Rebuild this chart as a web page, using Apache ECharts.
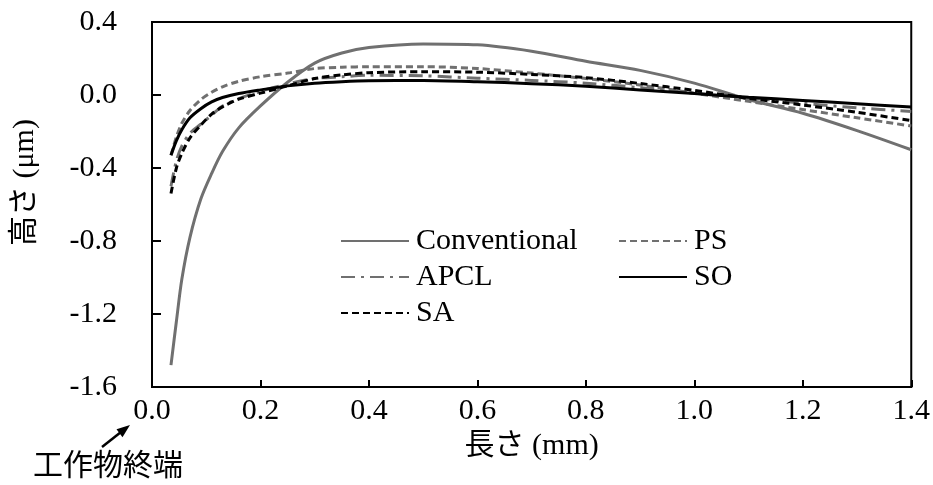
<!DOCTYPE html>
<html>
<head>
<meta charset="utf-8">
<script src="https://cdn.jsdelivr.net/npm/echarts@6/dist/echarts.min.js"></script>
<style>html,body{margin:0;padding:0;background:#fff;}#c{width:933px;height:485px;}</style>
</head>
<body>
<div id="c"></div>
<script>
var xs = [0.035, 0.045, 0.055, 0.07, 0.09, 0.11, 0.13, 0.16, 0.2, 0.25, 0.3, 0.35, 0.4, 0.5, 0.6, 0.7, 0.8, 0.9, 1.0, 1.1, 1.2, 1.3, 1.4];
var conventional = [-1.48, -1.24, -1.01, -0.78, -0.57, -0.43, -0.31, -0.18, -0.06, 0.07, 0.175, 0.23, 0.26, 0.28, 0.275, 0.24, 0.185, 0.135, 0.065, -0.025, -0.10, -0.195, -0.30];
var ps = [-0.33, -0.23, -0.155, -0.085, -0.025, 0.015, 0.045, 0.075, 0.10, 0.12, 0.145, 0.152, 0.155, 0.155, 0.145, 0.12, 0.09, 0.055, 0.01, -0.035, -0.08, -0.125, -0.17];
var apcl = [-0.50, -0.36, -0.28, -0.21, -0.16, -0.11, -0.06, -0.02, 0.02, 0.06, 0.09, 0.10, 0.108, 0.105, 0.092, 0.08, 0.065, 0.04, 0.01, -0.015, -0.045, -0.07, -0.09];
var so = [-0.33, -0.25, -0.19, -0.125, -0.075, -0.038, -0.014, 0.008, 0.028, 0.05, 0.065, 0.073, 0.078, 0.08, 0.073, 0.062, 0.048, 0.028, 0.008, -0.012, -0.03, -0.048, -0.066];
var sa = [-0.54, -0.40, -0.32, -0.235, -0.165, -0.105, -0.065, -0.023, 0.01, 0.05, 0.09, 0.11, 0.122, 0.128, 0.125, 0.113, 0.095, 0.063, 0.025, -0.018, -0.055, -0.095, -0.14];
var seriesNames = ['Conventional', 'PS', 'APCL', 'SO', 'SA'];
var xTicks = [0, 0.2, 0.4, 0.6, 0.8, 1.0, 1.2, 1.4];
var yTicks = [-1.6, -1.2, -0.8, -0.4, 0.0, 0.4];
var xName = '長さ (mm)';
var yName = '高さ (μm)';
var noteText = '工作物終端';

function pairs(ys) { return xs.map(function (x, i) { return [x, ys[i]]; }); }

var FONT = "'Liberation Serif', 'Noto Sans CJK JP', serif";
var GRAY = '#707070';
var styles = [
  { color: GRAY, type: 'solid' },
  { color: GRAY, type: [7, 4] },
  { color: GRAY, type: [14, 6, 3, 6] },
  { color: '#000', type: 'solid' },
  { color: '#000', type: [7, 4] }
];
var allData = [conventional, ps, apcl, so, sa];

var series = seriesNames.map(function (n, i) {
  return {
    name: n, type: 'line', smooth: 0.3, symbol: 'none', showSymbol: false,
    data: pairs(allData[i]),
    lineStyle: { color: styles[i].color, width: 3, type: styles[i].type },
    itemStyle: { color: styles[i].color },
    z: 2 + i
  };
});

var legendPos = [
  { left: 340, top: 243 }, { left: 618, top: 243 },
  { left: 340, top: 279 }, { left: 618, top: 279 },
  { left: 340, top: 315 }
];
var legends = seriesNames.map(function (n, i) {
  return {
    data: [n], left: legendPos[i].left, top: legendPos[i].top - 17,
    padding: 0, itemWidth: 68, itemHeight: 14, itemGap: 0,
    itemStyle: { opacity: 0 },
    textStyle: { fontFamily: FONT, fontSize: 30, color: '#000', padding: [0, 0, 0, 2] },
    selectedMode: false
  };
});

var chart = echarts.init(document.getElementById('c'), null, { renderer: 'canvas' });
chart.setOption({
  animation: false,
  backgroundColor: '#fff',
  grid: { left: 152, top: 22, right: 20, bottom: 98, show: true, borderColor: '#000', borderWidth: 2, backgroundColor: 'transparent' },
  legend: legends,
  xAxis: {
    type: 'value', min: xTicks[0], max: xTicks[xTicks.length - 1], interval: 0.2,
    name: xName, nameLocation: 'middle', nameGap: 34,
    nameTextStyle: { fontFamily: FONT, fontSize: 30, color: '#000' },
    axisLine: { show: true, onZero: false, lineStyle: { color: '#000', width: 2 } },
    axisTick: { show: true, inside: true, length: 7, lineStyle: { color: '#000', width: 2 } },
    axisLabel: { fontFamily: FONT, fontSize: 30, color: '#000', margin: 9,
      formatter: function (v) { return v.toFixed(1); } },
    splitLine: { show: false }
  },
  yAxis: {
    type: 'value', min: yTicks[0], max: yTicks[yTicks.length - 1], interval: 0.4,
    name: yName, nameLocation: 'middle', nameGap: 112, nameRotate: 90,
    nameTextStyle: { fontFamily: FONT, fontSize: 30, color: '#000', padding: [0, 0, 0, 44] },
    axisLine: { show: true, onZero: false, lineStyle: { color: '#000', width: 2 } },
    axisTick: { show: true, inside: true, length: 9, lineStyle: { color: '#000', width: 2 } },
    axisLabel: { fontFamily: FONT, fontSize: 30, color: '#000', margin: 35,
      formatter: function (v) { return v.toFixed(1); } },
    splitLine: { show: false }
  },
  graphic: [
    { type: 'line', shape: { x1: 102, y1: 447, x2: 121, y2: 432 }, style: { stroke: '#000', lineWidth: 2.5 } },
    { type: 'polygon', shape: { points: [[130, 425], [116.5, 429.3], [122.5, 437.3]] }, style: { fill: '#000' } },
    { type: 'text', left: 33, top: 452, style: { text: noteText, fontFamily: FONT, fontSize: 30, fill: '#000' } }
  ],
  series: series
});
</script>
</body>
</html>
